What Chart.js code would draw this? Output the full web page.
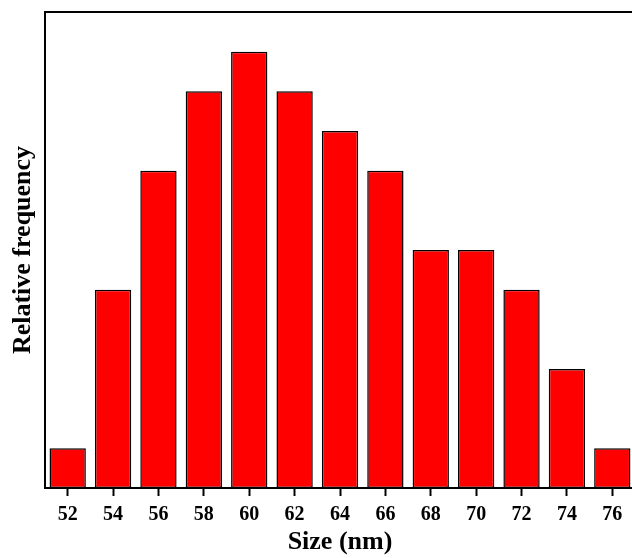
<!DOCTYPE html>
<html>
<head>
<meta charset="utf-8">
<script src="https://cdn.jsdelivr.net/npm/chart.js@4/dist/chart.umd.min.js"></script>
<style>
    html, body { margin: 0; padding: 0; background: #fff; overflow: hidden; }
    #wrap { position: relative; width: 635px; height: 558px; }
</style>
</head>
<body>
<div id="wrap"><canvas id="histChart"></canvas></div>
<script>
// Data
const SIZES = ['52', '54', '56', '58', '60', '62', '64', '66', '68', '70', '72', '74', '76'];
const FREQUENCY = [1, 5, 8, 10, 11, 10, 9, 8, 6, 6, 5, 3, 1];
const Y_MAX = 12;

const FONT = '"Liberation Serif", "Times New Roman", serif';

// top frame line (the reference has no right border)
const topFrame = {
    id: 'topFrame',
    afterDraw(chart) {
        const { ctx, chartArea } = chart;
        ctx.save();
        ctx.strokeStyle = '#000';
        ctx.lineWidth = 2;
        ctx.beginPath();
        ctx.moveTo(chartArea.left - 1, chartArea.top);
        ctx.lineTo(chartArea.right + 2, chartArea.top);
        ctx.stroke();
        ctx.restore();
    }
};

const ctx = document.getElementById('histChart').getContext('2d');
new Chart(ctx, {
    type: 'bar',
    data: {
        labels: SIZES,
        datasets: [{
            data: FREQUENCY,
            backgroundColor: '#ff0000',
            borderColor: '#000',
            borderWidth: 1.5,
            borderSkipped: false,
            barPercentage: 0.8,
            categoryPercentage: 1
        }]
    },
    options: {
        responsive: true,
        maintainAspectRatio: false,
        animation: false,
        layout: { padding: { top: 12, left: 0, right: 0, bottom: 0 } },
        plugins: { legend: { display: false }, tooltip: { enabled: false } },
        scales: {
            x: {
                offset: true,
                grid: { display: true, offset: false, drawOnChartArea: false, tickLength: 8, tickWidth: 2, tickColor: '#000' },
                border: { display: true, color: '#000', width: 2, z: 1 },
                ticks: { color: '#000', font: { family: FONT, size: 20, weight: 'bold' }, padding: 7, maxRotation: 0 },
                title: { display: true, text: 'Size (nm)', color: '#000', font: { family: FONT, size: 26, weight: 'bold' }, padding: { top: 0, bottom: 0 } },
                afterFit: scale => { scale.height = 70; }
            },
            y: {
                min: 0,
                max: Y_MAX,
                grid: { display: false },
                border: { display: true, color: '#000', width: 2, z: 1 },
                ticks: { display: false },
                title: { display: true, text: 'Relative frequency', color: '#000', font: { family: FONT, size: 26, weight: 'bold' }, padding: { top: 8, bottom: 0 } },
                afterFit: scale => { scale.width = 45; }
            }
        }
    },
    plugins: [topFrame]
});
</script>
</body>
</html>
